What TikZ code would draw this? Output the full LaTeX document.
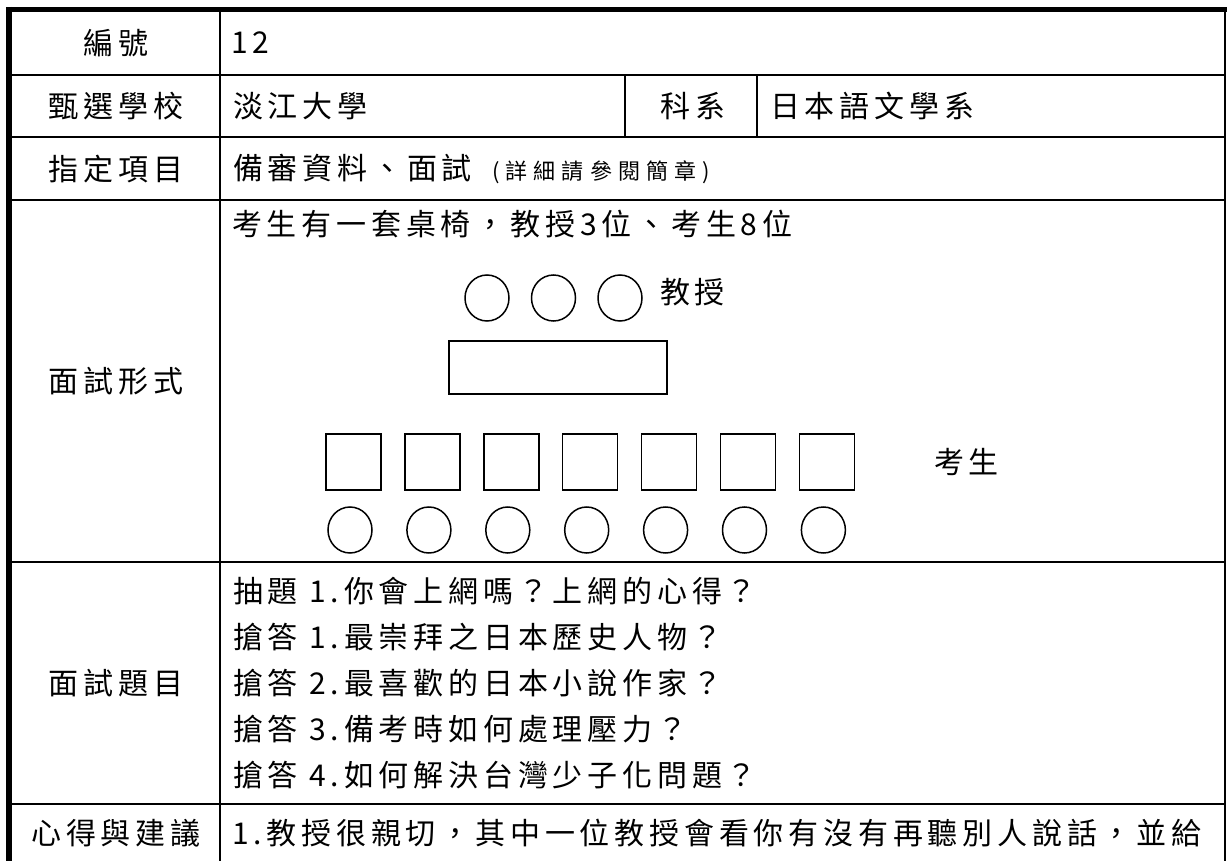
\documentclass[tikz,border=0pt]{standalone}
\usepackage{fontspec}
\newfontfamily\cjk[LetterSpace=16]{Noto Sans CJK TC}
\newfontfamily\cjksmall[LetterSpace=28]{Noto Sans CJK TC}
\begin{document}
\begin{tikzpicture}[x=1pt,y=-1pt,
  txt/.style={inner sep=0pt, font=\cjk\fontsize{30}{36}\selectfont},
  lbl/.style={txt, anchor=center},
  val/.style={txt, anchor=west},
  gridline/.style={line width=2pt},
  seat/.style={line width=1.5pt}]
\useasboundingbox (0,0) rectangle (1227,861);
% horizontal row lines
\foreach \y in {75,137,200,562,804} \draw[gridline] (9,\y) -- (1225,\y);
% vertical lines
\draw[gridline] (220,9) -- (220,861);
\draw[gridline] (625,75) -- (625,137);
\draw[gridline] (757,75) -- (757,137);
% outer frame
\draw[line width=2.5pt] (1225,9) -- (1225,861);
\draw[line width=5pt] (6,9.5) -- (1226.5,9.5);
\draw[line width=6pt] (9,7) -- (9,861);
% labels column
\node[lbl] (l1) at (116,43) {編號};
\node[lbl] (l2) at (116,106) {甄選學校};
\node[lbl] (l3) at (116,169) {指定項目};
\node[lbl] (l4) at (116,381) {面試形式};
\node[lbl] (l5) at (116,683) {面試題目};
\node[lbl] (l6) at (116,833) {心得與建議};
% values
\node[val] (v1) at (231,43) {12};
\node[val] (v2) at (233,106) {淡江大學};
\node[lbl] (k) at (693,106) {科系};
\node[val] (v2b) at (770,106) {日本語文學系};
\node[val] (v3) at (233,169) {備審資料、面試\hspace{20pt}{\cjksmall\fontsize{22}{26}\selectfont (詳細請參閱簡章)}};
\node[val] (v4) at (232,224) {考生有一套桌椅，教授3位、考生8位};
\node[val] (q1) at (233,591) {抽題 1.你會上網嗎？上網的心得？};
\node[val] (q2) at (233,637) {搶答 1.最崇拜之日本歷史人物？};
\node[val] (q3) at (233,683) {搶答 2.最喜歡的日本小說作家？};
\node[val] (q4) at (233,729) {搶答 3.備考時如何處理壓力？};
\node[val] (q5) at (233,775) {搶答 4.如何解決台灣少子化問題？};
\node[val] (v6) at (232,833) {1.教授很親切，其中一位教授會看你有沒有再聽別人說話，並給};
% professors
\foreach \i/\x in {1/487,2/553.5,3/620} \draw[seat] (\x,298) ellipse [x radius=22, y radius=23];
\node[val] (prof) at (660,292) {教授};
\draw[seat] (449,341) rectangle (667,394);
% students
\foreach \i in {0,...,6} {
  \draw[seat] (326+78.9*\i,434) rectangle (381+78.9*\i,490);
  \draw[seat] (350+78.9*\i,530) ellipse [x radius=22, y radius=23];
}
\node[val] (stu) at (934,462) {考生};
\end{tikzpicture}
\end{document}
